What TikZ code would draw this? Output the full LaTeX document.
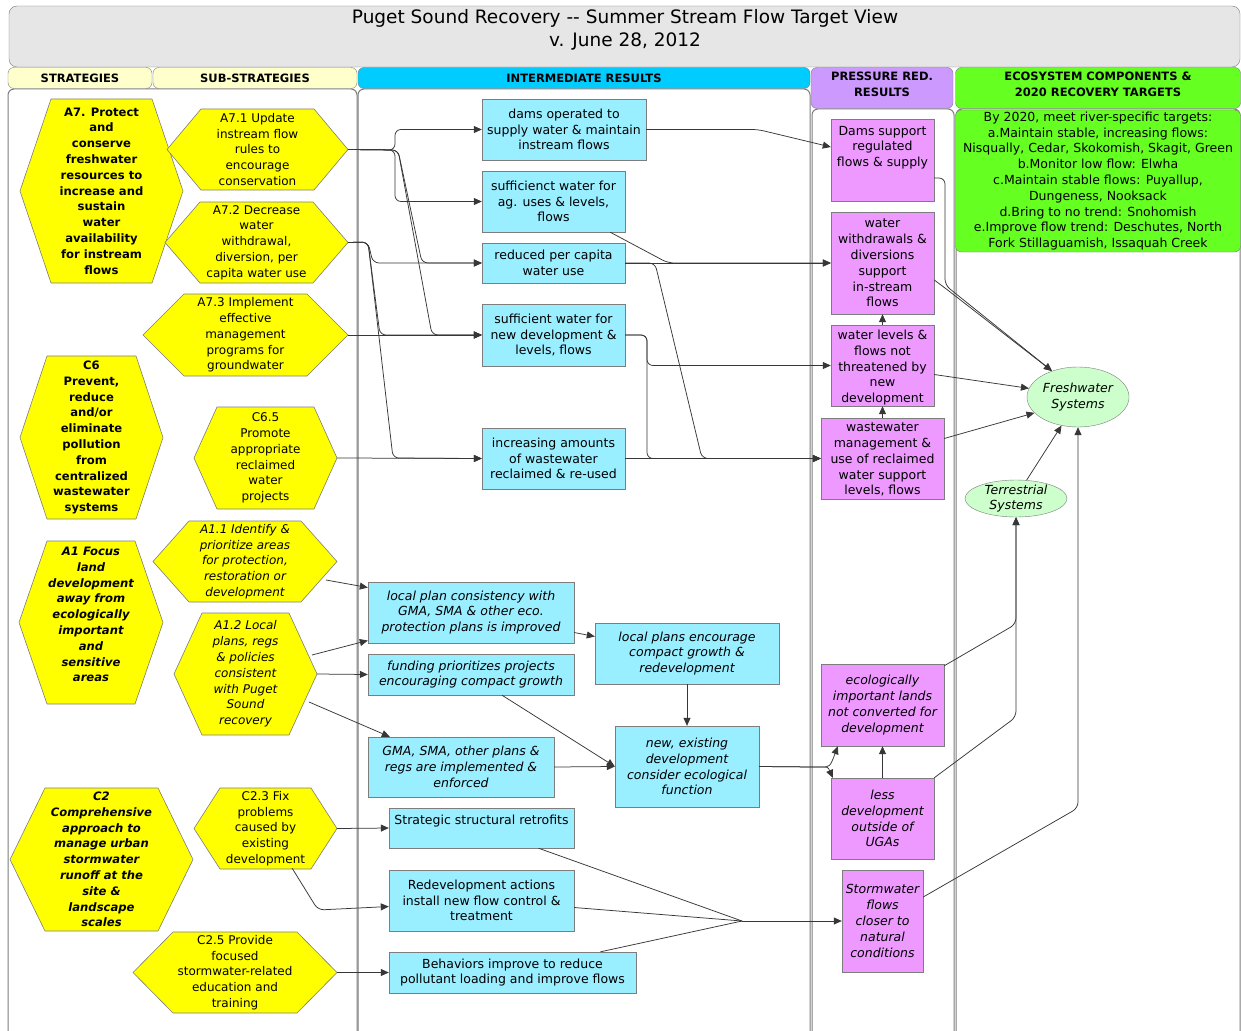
\documentclass[tikz,border=0pt]{standalone}
\usepackage{fontspec}
\setmainfont{DejaVu Sans}
\usepackage{tikz}
\usetikzlibrary{arrows.meta, shapes.geometric, positioning}
\definecolor{titlegray}{RGB}{230,230,230}
\definecolor{hdryellow}{RGB}{255,255,204}
\definecolor{hdrcyan}{RGB}{0,204,255}
\definecolor{hdrviolet}{RGB}{204,153,255}
\definecolor{ecogreen}{RGB}{102,255,34}
\definecolor{hexyellow}{RGB}{255,255,0}
\definecolor{irblue}{RGB}{153,238,255}
\definecolor{prpink}{RGB}{238,153,255}
\definecolor{paleleaf}{RGB}{204,255,204}
\definecolor{edgegray}{RGB}{125,125,125}
\definecolor{wiregray}{RGB}{55,55,55}
% hexagon: name, left x, right x, top y, bottom y, inset, style, text
\newcommand{\hexnode}[8]{%
  \filldraw[hexline] (#2,{(#4+#5)/2}) -- (#2+#6,#4) -- (#3-#6,#4) -- (#3,{(#4+#5)/2})
    -- (#3-#6,#5) -- (#2+#6,#5) -- cycle;
  \node[hextext,#7,minimum width={(#3-#2)*1pt},minimum height={(#5-#4)*1pt}] (#1)
    at ({(#2+#3)/2},{(#4+#5)/2}) {#8};
}

\begin{document}
\begin{tikzpicture}[x=1pt, y=-1pt, font=\fontsize{12.5}{15.8}\selectfont,
  lane/.style={draw=edgegray, line width=1pt, fill=white, rounded corners=6pt},
  hdr/.style={draw=edgegray, rounded corners=6pt, inner sep=0pt, align=center,
    font=\fontsize{11.5}{15.8}\selectfont\bfseries},
  hexline/.style={draw=edgegray, fill=hexyellow, line width=0.6pt},
  hextext/.style={inner sep=0pt, align=center, font=\fontsize{12}{15.8}\selectfont},
  stratfont/.style={font=\fontsize{11.6}{15.8}\selectfont\bfseries},
  stratital/.style={font=\fontsize{11.6}{15.8}\selectfont\bfseries\itshape},
  subital/.style={font=\fontsize{12}{15.8}\selectfont\itshape},
  irbox/.style={draw=edgegray, fill=irblue, inner sep=0pt, align=center},
  prbox/.style={draw=edgegray, fill=prpink, inner sep=0pt, align=center},
  boxtext/.style={inner sep=0pt, align=center},
  ital/.style={font=\fontsize{12.5}{15.8}\selectfont\itshape},
  ecoell/.style={ellipse, draw=edgegray, fill=paleleaf, inner sep=0pt},
  wire/.style={draw=wiregray, line width=0.75pt, rounded corners=6pt},
  conn/.style={wire, -{Triangle[length=8pt,width=7pt]}}]

  \fill[white] (0,0) rectangle (1241,1030);
  \useasboundingbox (0,0) rectangle (1241,1030);
  \clip (0,0) rectangle (1241,1030);

  % Title and swimlanes
  \node[draw=edgegray, fill=titlegray, rounded corners=8pt, minimum width=1231pt,
        minimum height=61pt, inner sep=0pt] (titlebox) at (624.5,36.5) {};
  \node[align=center, font=\fontsize{18.5}{23}\selectfont] (titletext) at (625,29.5)
        {Puget Sound Recovery -{}- Summer Stream Flow Target View\\v. June 28, 2012};
  \draw[lane] (8,89) rectangle (357,1045);
  \draw[lane] (358,89) rectangle (810,1045);
  \draw[lane] (812,109) rectangle (954,1045);
  \draw[lane] (956,109) rectangle (1240,1045);
  \node[hdr, fill=hdryellow, minimum width=144pt, minimum height=21pt] (hstrat) at (80,78) {STRATEGIES};
  \node[hdr, fill=hdryellow, minimum width=204pt, minimum height=21pt] (hsub) at (255,78) {SUB-STRATEGIES};
  \node[hdr, fill=hdrcyan, minimum width=452pt, minimum height=21pt] (hir) at (584,78) {INTERMEDIATE RESULTS};
  \node[hdr, fill=hdrviolet, minimum width=142pt, minimum height=41pt] (hpr) at (882,88) {};
  \node[hdr, fill=ecogreen, minimum width=285pt, minimum height=41pt] (heco) at (1098,88) {};
  \node[hdr, draw=none, fill=none] (hpr-t) at (882,84) {PRESSURE RED.\\RESULTS};
  \node[hdr, draw=none, fill=none] (heco-t) at (1098,84) {ECOSYSTEM COMPONENTS \&\\2020 RECOVERY TARGETS};

  % Strategies and sub-strategies
  \hexnode{a7}{20}{183}{99}{283}{31}{stratfont}{A7. Protect\\and\\conserve\\freshwater\\resources to\\increase and\\sustain\\water\\availability\\for instream\\flows}
  \hexnode{c6}{20}{163}{356}{519}{27}{stratfont}{C6\\Prevent,\\reduce\\and/or\\eliminate\\pollution\\from\\centralized\\wastewater\\systems}
  \hexnode{a1}{19}{163}{541}{704}{28}{stratital,yshift=8pt}{A1 Focus\\land\\development\\away from\\ecologically\\important\\and\\sensitive\\areas}
  \hexnode{c2}{10}{193}{788}{931}{35}{stratital}{C2\\Comprehensive\\approach to\\manage urban\\stormwater\\runoff at the\\site \&\\landscape\\scales}
  \hexnode{a71}{167}{348}{109}{190}{34}{}{A7.1 Update\\instream flow\\rules to\\encourage\\conservation}
  \hexnode{a72}{165}{348}{202}{283}{35}{}{A7.2 Decrease\\water\\withdrawal,\\diversion, per\\capita water use}
  \hexnode{a73}{143}{348}{294}{376}{41}{}{A7.3 Implement\\effective\\management\\programs for\\groundwater}
  \hexnode{c65}{194}{337}{407}{509}{23}{}{C6.5\\Promote\\appropriate\\reclaimed\\water\\projects}
  \hexnode{a11}{153}{337}{521}{602}{36}{subital}{A1.1 Identify \&\\prioritize areas\\for protection,\\restoration or\\development}
  \hexnode{a12}{174}{317}{613}{735}{28}{subital}{A1.2 Local\\plans, regs\\\& policies\\consistent\\with Puget\\Sound\\recovery}
  \hexnode{c23}{194}{337}{788}{869}{26}{}{C2.3 Fix\\problems\\caused by\\existing\\development}
  \hexnode{c25}{133}{337}{932}{1013}{40}{}{C2.5 Provide\\focused\\stormwater-related\\education and\\training}

  % Intermediate results
  \node[irbox, minimum width=164pt, minimum height=61pt] (dams) at (564,129.5) {dams operated to\\supply water \& maintain\\instream flows};
  \node[irbox, minimum width=143pt, minimum height=61pt] (suff) at (553.5,201.5) {sufficienct water for\\ag. uses \& levels,\\flows};
  \node[irbox, minimum width=143pt, minimum height=40pt] (redu) at (553.5,263) {reduced per capita\\water use};
  \node[irbox, minimum width=143pt, minimum height=62pt] (newd) at (553.5,335) {sufficient water for\\new development \&\\levels, flows};
  \node[irbox, minimum width=143pt, minimum height=61pt] (incr) at (553.5,458.5) {increasing amounts\\of wastewater\\reclaimed \& re-used};
  \node[irbox, ital, minimum width=206pt, minimum height=61pt] (lpc) at (471,612.5) {local plan consistency with\\GMA, SMA \& other eco.\\protection plans is improved};
  \node[irbox, ital, minimum width=206pt, minimum height=41pt] (fund) at (471,674.5) {funding prioritizes projects\\encouraging compact growth};
  \node[irbox, ital, minimum width=186pt, minimum height=60pt] (gma) at (461,767) {GMA, SMA, other plans \&\\regs are implemented \&\\enforced};
  \node[irbox, ital, minimum width=184pt, minimum height=61pt] (lpe) at (687,653.5) {local plans encourage\\compact growth \&\\redevelopment};
  \node[irbox, ital, minimum width=144pt, minimum height=81pt] (nex) at (687,766.5) {new, existing\\development\\consider ecological\\function};
  \node[irbox, minimum width=185pt, minimum height=40pt] (retro) at (481.5,828) {};
  \node[boxtext, anchor=north] (retro-t) at ([yshift=-7pt]retro.north) {Strategic structural retrofits};
  \node[irbox, minimum width=185pt, minimum height=61pt] (redv) at (481.5,900.5) {Redevelopment actions\\install new flow control \&\\treatment};
  \node[irbox, minimum width=247pt, minimum height=41pt] (behv) at (512.5,972.5) {Behaviors improve to reduce\\pollutant loading and improve flows};

  % Pressure reduction results
  \node[prbox, minimum width=103pt, minimum height=82pt] (psup) at (882.5,160) {};
  \node[boxtext, anchor=north] (psup-t) at ([yshift=-7pt]psup.north) {Dams support\\regulated\\flows \& supply};
  \node[prbox, minimum width=103pt, minimum height=102pt] (pwdr) at (882.5,263) {water\\withdrawals \&\\diversions\\support\\in-stream\\flows};
  \node[prbox, minimum width=103pt, minimum height=81pt] (plev) at (882.5,365.5) {};
  \node[boxtext, anchor=north] (plev-t) at ([yshift=-5pt]plev.north) {water levels \&\\flows not\\threatened by\\new\\development};
  \node[prbox, minimum width=123pt, minimum height=81pt] (pwas) at (882.5,458.5) {};
  \node[boxtext, anchor=north] (pwas-t) at ([yshift=-5pt]pwas.north) {wastewater\\management \&\\use of reclaimed\\water support\\levels, flows};
  \node[prbox, ital, minimum width=123pt, minimum height=82pt] (peco) at (882.5,705) {ecologically\\important lands\\not converted for\\development};
  \node[prbox, ital, minimum width=103pt, minimum height=81pt] (pless) at (882.5,818.5) {less\\development\\outside of\\UGAs};
  \node[prbox, ital, minimum width=81pt, minimum height=102pt] (psw) at (882.5,921) {Stormwater\\flows\\closer to\\natural\\conditions};

  % Ecosystem components and targets
  \node[draw=edgegray, fill=ecogreen, rounded corners=6pt, minimum width=285pt, minimum height=142pt,
        inner sep=0pt, align=center] (tgt) at (1098,181)
        {By 2020, meet river-specific targets:\\a.Maintain stable, increasing flows:\\Nisqually, Cedar, Skokomish, Skagit, Green\\b.Monitor low flow: Elwha\\c.Maintain stable flows: Puyallup,\\Dungeness, Nooksack\\d.Bring to no trend: Snohomish\\e.Improve flow trend: Deschutes, North\\Fork Stillaguamish, Issaquah Creek};
  \node[ecoell, minimum width=102pt, minimum height=60pt] (fresh) at (1078,397) {};
  \node[boxtext, ital] (fresh-t) at (fresh) {Freshwater\\Systems};
  \node[ecoell, minimum width=102pt, minimum height=37pt] (terr) at (1016,498.5) {};
  \node[boxtext, ital] (terr-t) at (terr) {Terrestrial\\Systems};

  % Links from sub-strategies
  \coordinate (a11-out) at (326,580);
  \coordinate (a12-up) at (312,655);
  \coordinate (a12-dn) at (309,702);
  \coordinate (c23-dn) at (292,868);
  \draw[conn] (a71.east) -- (395,150) |- (dams.west);
  \draw[conn] (a71.east) -- (395,150) |- (suff.west);
  \draw[conn] (a71.east) -- (398,150) -- (422,263) -- (redu.west);
  \draw[conn] (a71.east) -- (398,150) -- (432,335) -- (newd.west);
  \draw[conn] (a72.east) -- (368,242) -- (373,263) -- (redu.west);
  \draw[conn] (a72.east) -- (368,242) -- (380,335) -- (newd.west);
  \draw[conn] (a72.east) -- (368,242) -- (393,458) -- (incr.west);
  \draw[conn] (a73.east) -- (newd.west);
  \draw[conn] (c65.east) -- (incr.west);
  \draw[conn] (a11-out) -- ([yshift=25pt]lpc.west);
  \draw[conn] (a12-up) -- ([yshift=-28pt]lpc.west);
  \draw[conn] (a12.east) -- (fund.west);
  \draw[conn] (a12-dn) -- ([xshift=22pt]gma.north west);
  \draw[conn] (c23.east) -- (retro.west);
  \draw[conn] (c23-dn) -- (318,910) -- ([yshift=-6pt]redv.west);
  \draw[conn] (c25.east) -- (behv.west);

  % Links between results
  \draw[conn] ([yshift=-20pt]lpc.east) -- ([yshift=17pt]lpe.west);
  \draw[conn] (lpe.south) -- (nex.north);
  \draw[conn] ([xshift=31pt]fund.south) -- (nex.west);
  \draw[conn] (gma.east) -- (nex.west);
  \draw[conn] (nex.east) -- (815,767) .. controls (830,767) .. ([xshift=17pt]peco.south west);
  \draw[conn] (nex.east) -- (815,767) .. controls (828,767) .. ([xshift=2pt]pless.north west);
  \coordinate (swj) at (742,921);
  \draw[wire] ([xshift=57pt]retro.south) -- (swj);
  \draw[wire] ([yshift=-7pt]redv.east) -- (swj);
  \draw[wire] ([xshift=88pt]behv.north) -- (swj);
  \draw[conn] (swj) -- (psw.west);
  \draw[conn] (dams.east) -- (758,129.5) -- ([yshift=13pt]psup.west);
  \draw[conn] ([xshift=-15pt]suff.south east) -- (668,263) -- (pwdr.west);
  \draw[conn] (redu.east) -- (pwdr.west);
  \draw[conn] (redu.east) -- (655,263) -- (702,458.5) -- (pwas.west);
  \draw[conn] (newd.east) -- (647,335) |- (plev.west);
  \draw[conn] (newd.east) -- (647,335) |- (pwas.west);
  \draw[conn] (incr.east) -- (pwas.west);
  \draw[conn] (plev.north) -- (pwdr.south);
  \draw[conn] (pwas.north) -- (plev.south);
  \draw[conn] (pless.north) -- (peco.south);

  % Links to ecosystem components
  \draw[conn] ([yshift=-18pt]psup.east) -- (945,178) -- (945,285) -- (fresh.135);
  \draw[conn] ([yshift=-17pt]pwdr.east) -- (945,288) -- (fresh.135);
  \draw[conn] ([yshift=-9pt]plev.east) -- (fresh.170);
  \draw[conn] ([yshift=20pt]pwas.east) -- (fresh.200);
  \draw[conn] (terr.60) -- (fresh.240);
  \draw[conn] ([yshift=-2pt]peco.north east) -- (1016,624) -- (terr.south);
  \draw[conn] (pless.north east) -- (1016,717) -- (terr.south);
  \draw[conn] ([yshift=24pt]psw.east) -- (1078,808) -- (fresh.south);
\end{tikzpicture}
\end{document}
